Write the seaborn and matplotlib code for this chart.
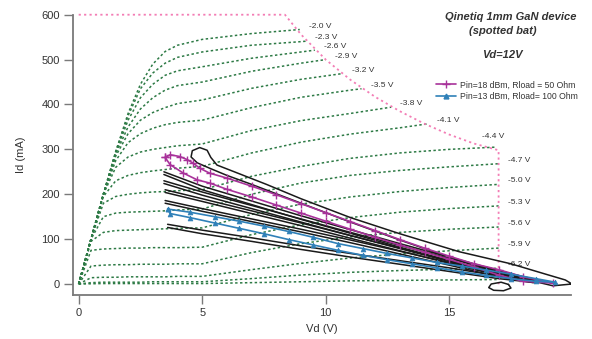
import numpy as np
import pandas as pd
import matplotlib
matplotlib.use("Agg")
import matplotlib.pyplot as plt
import seaborn as sns
from matplotlib.lines import Line2D

# ---------------- data ----------------
grid_vd = [0, 0.5, 1, 1.5, 2, 2.5, 3, 3.5, 4, 5, 7, 9, 11, 13, 15]

vgs_labels = ["-2.0 V", "-2.3 V", "-2.6 V", "-2.9 V", "-3.2 V", "-3.5 V", "-3.8 V",
              "-4.1 V", "-4.4 V", "-4.7 V", "-5.0 V", "-5.3 V", "-5.6 V", "-5.9 V",
              "-6.2 V", ""]

id_m20 = [0, 100, 200, 295, 380, 445, 490, 518, 532, 545, 558]
id_m23 = [0, 100, 200, 295, 375, 435, 470, 492, 505, 517, 532, 540]
id_m26 = [0, 100, 200, 293, 365, 415, 445, 465, 475, 484, 503, 517]
id_m29 = [0, 100, 200, 290, 350, 390, 415, 432, 442, 450, 474, 492]
id_m32 = [0, 100, 200, 285, 335, 365, 382, 393, 402, 410, 436, 456]
id_m35 = [0, 100, 200, 275, 315, 335, 347, 355, 360, 365, 393, 416, 432]
id_m38 = [0, 100, 200, 260, 283, 294, 300, 304, 308, 312, 342, 364, 380]
id_m41 = [0, 100, 195, 230, 242, 248, 252, 255, 258, 262, 292, 316, 334, 348]
id_m44 = [0, 100, 180, 195, 200, 203, 205, 206, 208, 210, 240, 262, 280, 292, 300]
id_m47 = [0, 100, 150, 158, 160, 161, 162, 163, 165, 167, 200, 225, 242, 253, 261]
id_m50 = [0, 95, 115, 119, 120, 121, 122, 123, 124, 125, 155, 178, 194, 206, 215]
id_m53 = [0, 75, 78, 79, 80, 80, 81, 81, 81, 82, 110, 132, 148, 160, 168]
id_m56 = [0, 40, 42, 43, 43, 44, 44, 44, 45, 45, 70, 90, 105, 115, 122]
id_m59 = [0, 14, 15, 15, 16, 16, 16, 16, 17, 17, 32, 46, 58, 67, 74]
id_m62 = [0, 3, 4, 4, 4, 4, 5, 5, 5, 5, 12, 20, 26, 30, 33]
id_m65 = [0, 0.5, 1, 1, 1, 1, 1, 1, 1, 1, 3, 5, 7, 8, 9]

end_vd = [8.95, 9.2, 9.56, 10.0, 10.7, 11.45, 12.65, 14.15, 16.9, 17.0, 17.0, 17.0, 17.0, 17.0, 17.0, 17.0]
end_id = [567, 541, 521, 500, 469, 435, 394, 357, 305, 268, 222, 174, 127, 80, 35, 10]

# 5 W power-limit boundary
limit_vd = [0, 8.35, 9, 10, 11, 12, 13, 14, 15, 16, 17, 17]
limit_id = [600, 600, 556, 500, 455, 417, 385, 357, 333, 313, 298, -5]

# black dynamic load-line loops
big_vd = [19.97, 19.7, 18.9, 17.5, 15.4, 13, 11, 9, 7.6, 6.3, 5.6, 5.35, 5.2, 4.9, 4.6, 4.55,
          4.8, 5.3, 6.0, 7, 9, 11, 13, 15, 17, 18.2, 19.2, 19.97]
big_id = [0, 9, 22, 45, 72, 112, 148, 190, 222, 250, 265, 282, 298, 304, 297, 283,
          270, 258, 242, 222, 180, 138, 98, 60, 25, 9, -4, 0]
small_vd = [17.4, 17.1, 16.7, 16.6, 16.8, 17.2, 17.5, 17.4]
small_id = [-1, 4, 0, -8, -14, -15, -9, -1]
l2_vd = [3.45, 5, 7, 9, 11, 13, 15, 17, 18.8, 17, 15, 13, 11, 9, 7, 5, 3.45]
l2_id = [250, 218, 185, 152, 121, 90, 60, 30, 5, 24, 52, 82, 113, 144, 177, 210, 244]
l3_vd = [3.45, 5, 7, 9, 11, 13, 15, 17, 18.6, 17, 15, 13, 11, 9, 7, 5, 3.45]
l3_id = [230, 205, 175, 145, 115, 86, 57, 28, 4, 22, 50, 79, 108, 138, 168, 198, 224]
l4_vd = [3.5, 5, 7, 9, 11, 13, 15, 17, 18.5, 17, 15, 13, 11, 9, 7, 5, 3.5]
l4_id = [210, 190, 163, 136, 108, 80, 52, 25, 3, 19, 46, 74, 102, 130, 157, 184, 204]
l5_vd = [3.5, 5, 7, 9, 11, 13, 15, 17, 18.4, 17, 15, 13, 11, 9, 7, 5, 3.5]
l5_id = [186, 168, 145, 122, 98, 73, 48, 22, 3, 16, 42, 67, 92, 116, 139, 162, 180]
l6_vd = [3.6, 5, 7, 9, 11, 13, 15, 17, 18.5, 17, 15, 13, 11, 9, 7, 5, 3.6]
l6_id = [133, 120, 103, 85, 68, 52, 36, 18, 3, 12, 28, 44, 60, 77, 95, 112, 126]

# Pin=18 dBm, Rload=50 Ohm
mg_vd = [3.5, 3.7, 4.1, 4.4, 4.64, 4.9, 5.3, 6, 7, 8, 9, 10, 11, 12, 13, 14, 15, 16, 17, 18, 19.2,
         18, 17, 16, 15, 14, 13, 12, 11, 10, 9, 8, 7, 6, 5.3, 4.8, 4.24, 3.7, 3.5]
mg_id = [282, 288, 284, 277, 269, 258, 247, 236, 218, 199, 179, 159, 139, 119, 99, 80, 62, 45, 32, 16, 2,
         6, 20, 38, 55, 71, 87, 104, 122, 140, 158, 176, 194, 211, 225, 232, 247, 266, 282]

# Pin=13 dBm, Rload=100 Ohm
bl_vd = [3.6, 4.5, 5.5, 6.5, 7.5, 8.5, 9.5, 10.5, 11.5, 12.5, 13.5, 14.5, 15.5, 16.5, 17.5, 18.5, 19.3,
         18.5, 17.5, 16.5, 15.5, 14.5, 13.5, 12.5, 11.5, 10.5, 9.5, 8.5, 7.5, 6.5, 5.5, 4.5, 3.7, 3.6]
bl_id = [167, 160, 150, 140, 129, 117, 104, 90, 79, 68, 58, 48, 40, 31, 22, 12, 4,
         6, 12, 19, 27, 36, 45, 54, 64, 75, 87, 99, 112, 124, 136, 148, 157, 167]

legend_labels = ["Pin=18 dBm, Rload = 50 Ohm", "Pin=13 dBm, Rload= 100 Ohm"]
title_lines = ["Qinetiq 1mm GaN device", "(spotted bat)", "Vd=12V"]

# ---------------- style ----------------
sns.set_theme(style="white")
plt.rcParams['font.family'] = ['Liberation Sans', 'DejaVu Sans']

GREEN = '#2d7a45'
PINK = '#f37db5'
MAG = '#a8329a'
BLUE = '#2f80b8'
BLACK = '#1a1a1a'
GRAY = '#7a7a7a'
TXT = '#333333'

fig = plt.figure(figsize=(5.92, 3.39), dpi=100)
ax = fig.add_axes([0.1233, 0.1298, 0.8412, 0.8268])

# IV curves
curves = [id_m20, id_m23, id_m26, id_m29, id_m32, id_m35, id_m38, id_m41,
          id_m44, id_m47, id_m50, id_m53, id_m56, id_m59, id_m62, id_m65]
rows = []
for k, ids in enumerate(curves):
    vds = grid_vd[:len(ids)] + [end_vd[k]]
    idv = list(ids) + [end_id[k]]
    for v, i in zip(vds, idv):
        rows.append({"vd": v, "id": i, "curve": k})
iv = pd.DataFrame(rows)
for k, sub in iv.groupby("curve"):
    sns.lineplot(data=sub, x="vd", y="id", ax=ax, sort=False, estimator=None,
                 color=GREEN, lw=1.1, linestyle=(0, (1.6, 1.6)), zorder=2)

# power limit
sns.lineplot(x=limit_vd, y=limit_id, ax=ax, sort=False, estimator=None,
             color=PINK, lw=1.3, linestyle=(0, (1.2, 1.8)), zorder=2, clip_on=False)

# labels of curves
for k, lab in enumerate(vgs_labels):
    if not lab:
        continue
    if k == 8:
        ax.annotate(lab, (end_vd[k], end_id[k]), xytext=(-2, 5), textcoords='offset points',
                    ha='center', va='bottom', fontsize=6, color=TXT)
    else:
        ax.annotate(lab, (end_vd[k], end_id[k]), xytext=(6.5, 2.5), textcoords='offset points',
                    ha='left', va='center', fontsize=6, color=TXT)

# black loops
for vx, vy in [(big_vd, big_id), (small_vd, small_id), (l2_vd, l2_id), (l3_vd, l3_id),
               (l4_vd, l4_id), (l5_vd, l5_id), (l6_vd, l6_id)]:
    sns.lineplot(x=vx, y=vy, ax=ax, sort=False, estimator=None, color=BLACK, lw=1.1, zorder=3)

sns.lineplot(x=mg_vd, y=mg_id, ax=ax, sort=False, estimator=None, color=MAG, lw=1.2,
             marker='+', markersize=6, markeredgewidth=1.0, markeredgecolor=MAG, zorder=4)
sns.lineplot(x=bl_vd, y=bl_id, ax=ax, sort=False, estimator=None, color=BLUE, lw=1.2,
             marker='^', markersize=3.5, markeredgewidth=0.5, markeredgecolor=BLUE, zorder=4)

# axes
ax.set_xlim(-0.23, 19.93)
ax.set_ylim(-24.5, 600)
ax.set_xticks([0, 5, 10, 15])
ax.set_yticks([0, 100, 200, 300, 400, 500, 600])
for s in ['top', 'right']:
    ax.spines[s].set_visible(False)
for s in ['left', 'bottom']:
    ax.spines[s].set_color(GRAY)
    ax.spines[s].set_linewidth(1.3)
ax.tick_params(axis='both', direction='out', length=6.5, width=1.0, color=GRAY,
               labelsize=8, labelcolor=TXT, pad=3, bottom=True, left=True)
ax.set_xlabel("Vd (V)", fontsize=8, color=TXT, labelpad=4)
ax.set_ylabel("Id (mA)", fontsize=8, color=TXT, labelpad=11)
ax.grid(False)

# title text
fig.text(0.862, 0.951, title_lines[0], fontsize=8, fontweight='bold', fontstyle='italic',
         color=TXT, ha='center', va='center')
fig.text(0.850, 0.909, title_lines[1], fontsize=8, fontweight='bold', fontstyle='italic',
         color=TXT, ha='center', va='center')
fig.text(0.848, 0.838, title_lines[2], fontsize=8, fontweight='bold', fontstyle='italic',
         color=TXT, ha='center', va='center')

handles = [Line2D([0], [0], color=MAG, lw=1.2, marker='+', markersize=6),
           Line2D([0], [0], color=BLUE, lw=1.2, marker='^', markersize=3.5)]
leg = fig.legend(handles, legend_labels, loc='upper left', bbox_to_anchor=(0.737, 0.763),
                 frameon=False, fontsize=6.2, handlelength=2.3, handletextpad=0.4,
                 labelspacing=0.3, borderpad=0, borderaxespad=0)
for t in leg.get_texts():
    t.set_color(TXT)

fig.savefig("out.png", dpi=100)
